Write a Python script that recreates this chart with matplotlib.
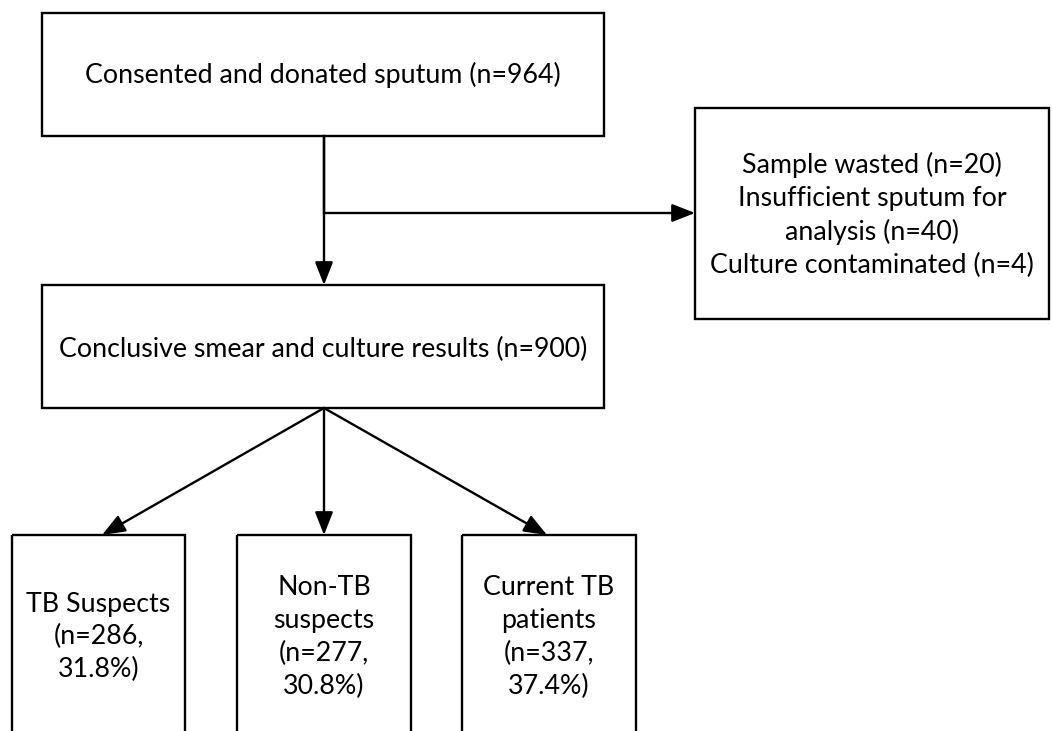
import matplotlib.pyplot as plt
from matplotlib.patches import Rectangle

# flow counts
n_total = 964
n_wasted = 20
n_insufficient = 40
n_contaminated = 4
n_conclusive = 900
groups = ['TB Suspects', 'Non-TB\nsuspects', 'Current TB\npatients']
group_n = [286, 277, 337]
group_pct = [31.8, 30.8, 37.4]

plt.rcParams['font.family'] = ['Lato', 'DejaVu Sans']
fs = 19.3
lw = 1.7

fig = plt.figure(figsize=(10.53, 7.31), dpi=100)
ax = fig.add_axes([0, 0, 1, 1])
ax.set_xlim(0, 1053)
ax.set_ylim(731, 0)
ax.axis('off')

def box(x0, y0, x1, y1):
    ax.add_patch(Rectangle((x0, y0), x1 - x0, y1 - y0, fill=False,
                           edgecolor='black', linewidth=lw, clip_on=False))

def arrow(x0, y0, x1, y1):
    ax.annotate('', xy=(x1, y1), xytext=(x0, y0),
                arrowprops=dict(arrowstyle='-|>,head_length=1.4,head_width=0.55',
                                color='black', lw=lw, shrinkA=0, shrinkB=0))

# top box
box(42, 13, 604, 136)
ax.text(323, 75, 'Consented and donated sputum (n=%d)' % n_total,
        ha='center', va='center', fontsize=fs)

# exclusions box
box(695, 108, 1049, 319)
excl = 'Sample wasted (n=%d)\nInsufficient sputum for\nanalysis (n=%d)\nCulture contaminated (n=%d)' % (
    n_wasted, n_insufficient, n_contaminated)
ax.text(872, 215, excl, ha='center', va='center', fontsize=fs, linespacing=1.38)

# middle box
box(42, 285, 604, 408)
ax.text(323, 349, 'Conclusive smear and culture results (n=%d)' % n_conclusive,
        ha='center', va='center', fontsize=fs)

# connectors
ax.plot([324, 324], [136, 213], color='black', lw=lw)
arrow(324, 136, 324, 285)
arrow(324, 213, 695, 213)

# bottom boxes
lefts = [12, 237, 462]
rights = [185, 411, 636]
tips = [102, 324, 547]
for i in range(len(groups)):
    box(lefts[i], 535, rights[i], 760)
    arrow(324, 408, tips[i], 535)
    label = '%s\n(n=%d,\n%.1f%%)' % (groups[i], group_n[i], group_pct[i])
    ax.text((lefts[i] + rights[i]) / 2, 637, label, ha='center', va='center',
            fontsize=fs, linespacing=1.38)

plt.savefig('out.png', dpi=100)
